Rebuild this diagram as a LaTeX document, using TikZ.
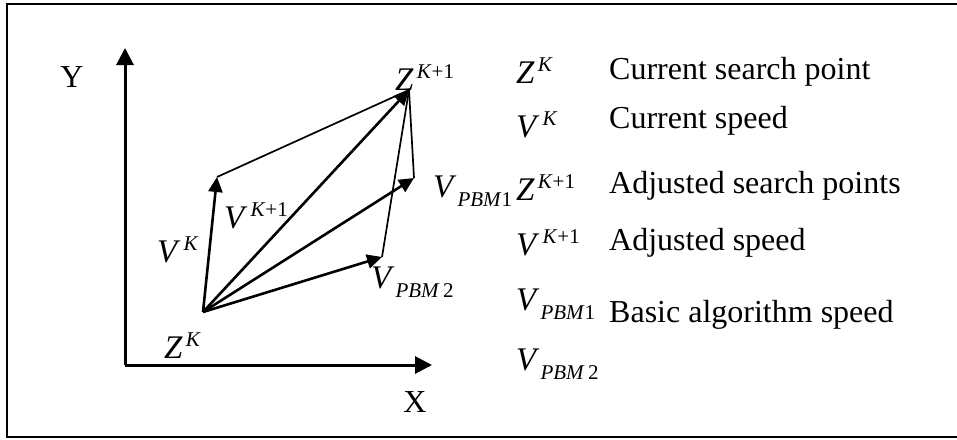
\documentclass[tikz,border=0pt]{standalone}
\usepackage{fontspec}
\setmainfont{Liberation Serif}
\usetikzlibrary{arrows.meta}
\newcommand{\txtf}{\fontsize{32}{36}\selectfont}
\newcommand{\symf}{\fontsize{33}{37}\selectfont}
\newcommand{\smlf}{\fontsize{21}{23}\selectfont}
\newcommand{\supK}[1]{\kern3pt\raisebox{12pt}{\smlf\textit{K}#1}}
\newcommand{\subP}[1]{\kern1pt\raisebox{-9pt}{\smlf\textit{PBM}#1}}
\begin{document}
\begin{tikzpicture}[x=1pt,y=-1pt,
  lbl/.style={inner sep=0pt,anchor=base west,font=\symf},
  txt/.style={inner sep=0pt,anchor=base west,font=\txtf},
  axis/.style={line width=3pt,-{Triangle[length=17pt,width=17pt]}},
  vec/.style={line width=2.6pt,-{Triangle[length=15pt,width=14pt]}},
  thin/.style={line width=1.7pt}]
\useasboundingbox (0,0) rectangle (957,439);
% frame
\draw[line width=2.4pt] (960,4) -- (7,4) -- (7,437) -- (960,437);
% axes
\coordinate (O) at (125,365);
\coordinate (Ytip) at (125,48);
\coordinate (Xtip) at (432,365);
\draw[axis] (O) -- (Ytip);
\draw[axis] (O) -- (Xtip);
\node[inner sep=0pt,font=\txtf] (Ylab) at (72,77) {Y};
\node[inner sep=0pt,font=\txtf] (Xlab) at (415,402) {X};
% points
\coordinate (ZK) at (203,312);
\coordinate (VK) at (217,177);
\coordinate (ZK1) at (409,90);
\coordinate (P1) at (414,178);
\coordinate (P2) at (382,257);
% thin lines
\draw[thin] (VK) -- (ZK1);
\draw[thin] (P1) -- (ZK1);
\draw[thin] (P2) -- (ZK1);
% vectors
\draw[vec] (ZK) -- (VK);
\draw[vec] (ZK) -- (ZK1);
\draw[vec] (ZK) -- (P1);
\draw[vec] (ZK) -- (P2);
% diagram labels
\node[lbl] (lZK) at (164,358) {\textit{Z}\supK{}};
\node[lbl] (lVK) at (157,262) {\textit{V}\supK{}};
\node[lbl] (lVK1) at (224,228) {\textit{V}\supK{+1}};
\node[lbl] (lZK1) at (395,90) {\textit{Z}\supK{+1}};
\node[lbl] (lP1) at (433,197) {\textit{V}\subP{1}};
\node[lbl] (lP2) at (371,288) {\textit{V}\subP{\,2}};
% legend
\node[lbl] (s1) at (516,83) {\textit{Z}\supK{}};
\node[lbl] (s2) at (516,137) {\textit{V}\supK{}};
\node[lbl] (s3) at (516,200) {\textit{Z}\supK{+1}};
\node[lbl] (s4) at (516,255) {\textit{V}\supK{+1}};
\node[lbl] (s5) at (516,310) {\textit{V}\subP{1}};
\node[lbl] (s6) at (516,370) {\textit{V}\subP{\,2}};
\node[txt] (t1) at (609,79) {Current search point};
\node[txt] (t2) at (609,128) {Current speed};
\node[txt] (t3) at (609,193) {Adjusted search points};
\node[txt] (t4) at (609,250) {Adjusted speed};
\node[txt] (t5) at (609,322) {Basic algorithm speed};
\end{tikzpicture}
\end{document}
